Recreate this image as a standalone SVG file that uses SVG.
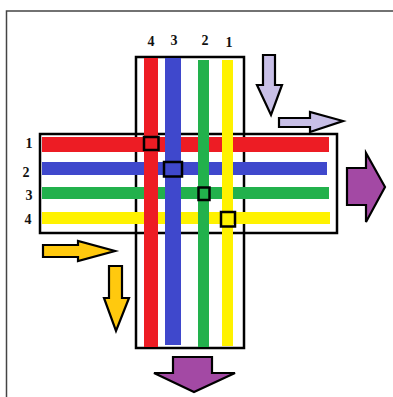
<svg xmlns="http://www.w3.org/2000/svg" width="393" height="397" viewBox="0 0 393 397">
<style>
.frame{fill:none;stroke:#444;stroke-width:1.5}
.box{fill:none;stroke:#000;stroke-width:2.5}
.sq{fill:none;stroke:#000;stroke-width:2.5}
.arr{stroke:#000;stroke-width:2.2;stroke-linejoin:miter}
.lbl{font-family:"Liberation Serif",serif;font-weight:bold;font-size:14px;fill:#111;text-anchor:middle}
.red{fill:#ED1C24}.blue{fill:#3F48CC}.green{fill:#22B14C}.yellow{fill:#FFF200}
.lav{fill:#C8BFE7}.pur{fill:#A349A4}.ora{fill:#FFC90E}
</style>
<rect width="393" height="397" fill="#fff"/>
<rect class="frame" x="6.5" y="11" width="400" height="400"/>
<g id="road-outline">
<rect class="box" x="136" y="57" width="108" height="291"/>
<rect class="box" x="40" y="134" width="297" height="99"/>
</g>
<g id="horizontal-lanes">
<rect class="red" x="42" y="137" width="287" height="15"/>
<rect class="blue" x="42" y="162" width="285" height="13"/>
<rect class="green" x="42" y="187" width="287" height="12"/>
<rect class="yellow" x="42" y="212" width="288" height="12"/>
</g>
<g id="vertical-lanes">
<rect class="red" x="144" y="58" width="14" height="289"/>
<rect class="blue" x="165" y="58" width="16" height="287"/>
<rect class="green" x="198" y="60" width="11" height="287"/>
<rect class="yellow" x="222" y="60" width="11" height="286"/>
</g>
<g id="crossings">
<rect class="sq" x="144" y="137" width="14.5" height="13"/>
<rect class="sq" x="164" y="162" width="18" height="14.5"/>
<rect class="sq" x="198.5" y="187.5" width="11" height="12.5"/>
<rect class="sq" x="221" y="212" width="14" height="14.5"/>
</g>
<g id="labels">
<text class="lbl" x="151" y="46">4</text>
<text class="lbl" x="174" y="45">3</text>
<text class="lbl" x="205" y="45">2</text>
<text class="lbl" x="229" y="47">1</text>
<text class="lbl" x="29" y="148">1</text>
<text class="lbl" x="26" y="177">2</text>
<text class="lbl" x="29" y="200">3</text>
<text class="lbl" x="28" y="224">4</text>
</g>
<g id="arrows">
<polygon class="arr lav" points="263,55 275,55 275,85 282,85 271,115 257,85 263,85"/>
<polygon class="arr lav" points="279,118 310,118 310,112 343,121 310,132 310,127 279,127"/>
<polygon class="arr pur" points="347,168 366,168 366,153 385,187 366,222 366,205 347,205"/>
<polygon class="arr ora" points="43,245 78,245 78,241 115,251 78,261 78,257 43,257"/>
<polygon class="arr ora" points="109,266 122,266 122,298 129,298 116,331 104,298 109,298"/>
<polygon class="arr pur" points="173,357 212,357 212,373 235,373 194,392 154,373 173,373"/>
</g>
</svg>
